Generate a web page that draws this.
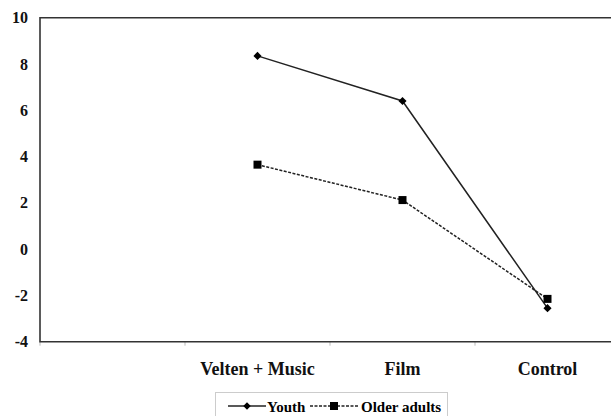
<!DOCTYPE html>
<html>
<head>
<meta charset="utf-8">
<script src="https://cdn.jsdelivr.net/npm/d3@7"></script>
<style>
  body { margin: 0; background: #fff; }
</style>
</head>
<body>
<div class="canvas"></div>
<script>
// data
const categories = ["", "Velten + Music", "Film", "Control"];
const youth = [8.35, 6.4, -2.55];
const olderAdults = [3.65, 2.12, -2.15];
const yTicks = [-4, -2, 0, 2, 4, 6, 8, 10];

const width = 611;
const height = 416;
const serif = "'Liberation Serif'";

const svg = d3
  .select(".canvas")
  .append("svg")
  .attr("width", width)
  .attr("height", height);

const plotLeft = 40;
const plotTop = 17.7;
const plotBottom = 341.7;
const plotRight = 620;

const xScale = d3
  .scaleBand()
  .domain(categories)
  .range([plotLeft, plotRight]);

const yScale = d3
  .scaleLinear()
  .domain([-4, 10])
  .range([plotBottom, plotTop]);

const xOf = (i) => xScale(categories[i + 1]) + xScale.bandwidth() / 2;

// category ticks under the axis
svg
  .append("g")
  .selectAll("line")
  .data(categories)
  .enter()
  .append("line")
  .attr("x1", (d) => xScale(d))
  .attr("x2", (d) => xScale(d))
  .attr("y1", plotBottom)
  .attr("y2", plotBottom + 4)
  .attr("stroke", "#bbb")
  .attr("stroke-width", 1);

// frame
svg
  .append("path")
  .attr("d", `M${plotRight},${plotTop}H${plotLeft}V${plotBottom}H${plotRight}`)
  .attr("fill", "none")
  .attr("stroke", "#333")
  .attr("stroke-width", 1.6);

// y axis labels (plain hyphen for negatives)
const yAxis = d3
  .axisLeft(yScale)
  .tickValues(yTicks)
  .tickSize(0)
  .tickPadding(12)
  .tickFormat((d) => String(d));
const yG = svg.append("g").attr("transform", `translate(${plotLeft},0)`).call(yAxis);
yG.attr("font-family", null).attr("font-size", null);
yG.select(".domain").remove();
yG.selectAll("text")
  .style("font-family", serif)
  .style("font-weight", "bold")
  .style("font-size", "16px")
  .attr("fill", "#111");

// category labels
svg
  .append("g")
  .selectAll("text")
  .data(categories.slice(1))
  .enter()
  .append("text")
  .text((d) => d)
  .attr("x", (d) => xScale(d) + xScale.bandwidth() / 2)
  .attr("y", 375)
  .attr("text-anchor", "middle")
  .style("font-family", serif)
  .style("font-weight", "bold")
  .style("font-size", "18px")
  .attr("fill", "#111");

const line = d3
  .line()
  .x((d, i) => xOf(i))
  .y((d) => yScale(d));

// youth - solid with diamonds
svg
  .append("path")
  .datum(youth)
  .attr("d", line)
  .attr("fill", "none")
  .attr("stroke", "#222")
  .attr("stroke-width", 1.5);

svg
  .append("g")
  .selectAll("path")
  .data(youth)
  .enter()
  .append("path")
  .attr("d", d3.symbol(d3.symbolDiamond2, 42))
  .attr("transform", (d, i) => `translate(${xOf(i)},${yScale(d)})`)
  .attr("fill", "#000");

// older adults - dashed with squares
svg
  .append("path")
  .datum(olderAdults)
  .attr("d", line)
  .attr("fill", "none")
  .attr("stroke", "#222")
  .attr("stroke-width", 1.5)
  .attr("stroke-dasharray", "3,1.5");

svg
  .append("g")
  .selectAll("rect")
  .data(olderAdults)
  .enter()
  .append("rect")
  .attr("x", (d, i) => xOf(i) - 4)
  .attr("y", (d) => yScale(d) - 4)
  .attr("width", 8)
  .attr("height", 8)
  .attr("fill", "#000");

// legend
const legend = svg.append("g");
legend
  .append("rect")
  .attr("x", 215.5)
  .attr("y", 392.5)
  .attr("width", 232)
  .attr("height", 40)
  .attr("fill", "#fff")
  .attr("stroke", "#ccc");

legend
  .append("line")
  .attr("x1", 228)
  .attr("x2", 266)
  .attr("y1", 406)
  .attr("y2", 406)
  .attr("stroke", "#222")
  .attr("stroke-width", 1.5);
legend
  .append("path")
  .attr("d", d3.symbol(d3.symbolDiamond2, 36))
  .attr("transform", "translate(247,406)");
legend
  .append("text")
  .text("Youth")
  .attr("x", 267)
  .attr("y", 412)
  .style("font-family", serif)
  .style("font-weight", "bold")
  .style("font-size", "15px");

legend
  .append("line")
  .attr("x1", 310)
  .attr("x2", 359)
  .attr("y1", 406)
  .attr("y2", 406)
  .attr("stroke", "#222")
  .attr("stroke-width", 1.5)
  .attr("stroke-dasharray", "3,1.5");
legend
  .append("rect")
  .attr("x", 330)
  .attr("y", 402)
  .attr("width", 8)
  .attr("height", 8);
legend
  .append("text")
  .text("Older adults")
  .attr("x", 361)
  .attr("y", 412)
  .style("font-family", serif)
  .style("font-weight", "bold")
  .style("font-size", "15px");
</script>
</body>
</html>
